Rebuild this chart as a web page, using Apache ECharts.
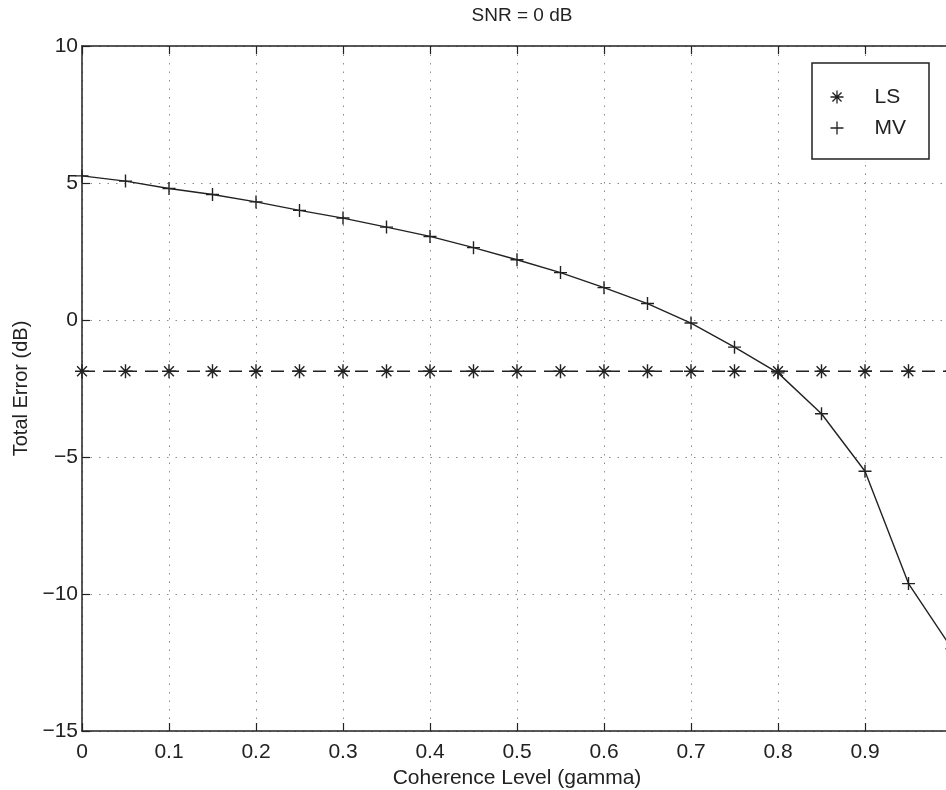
<!DOCTYPE html>
<html>
<head>
<meta charset="utf-8">
<script src="https://cdn.jsdelivr.net/npm/echarts@6/dist/echarts.min.js"></script>
<style>
html,body{margin:0;padding:0;background:#fff;}
#chart{width:946px;height:790px;}
</style>
</head>
<body>
<div id="chart"></div>
<script>
// ---- data ----
var gamma = [0, 0.05, 0.1, 0.15, 0.2, 0.25, 0.3, 0.35, 0.4, 0.45, 0.5, 0.55, 0.6, 0.65, 0.7, 0.75, 0.8, 0.85, 0.9, 0.95, 1.0];
var lsError = [-1.87, -1.87, -1.87, -1.87, -1.87, -1.87, -1.87, -1.87, -1.87, -1.87, -1.87, -1.87, -1.87, -1.87, -1.87, -1.87, -1.87, -1.87, -1.87, -1.87, -1.87];
var mvError = [5.26, 5.07, 4.80, 4.58, 4.31, 4.00, 3.72, 3.39, 3.05, 2.64, 2.20, 1.73, 1.18, 0.60, -0.11, -0.99, -1.93, -3.42, -5.52, -9.62, -12.0];
var seriesNames = ['LS', 'MV'];
var titleText = 'SNR = 0 dB';
var xAxisName = 'Coherence Level (gamma)';
var yAxisName = 'Total Error (dB)';

var FONT = '"Liberation Sans", Arial, Helvetica, sans-serif';
var INK = '#222';
var PLUS = 'path://M0,5L10,5M5,0L5,10';
var STAR = 'path://M0,5L10,5M5,0L5,10M1.5,1.5L8.5,8.5M1.5,8.5L8.5,1.5';

function pairs(xs, ys) { return xs.map(function (x, i) { return [x, ys[i]]; }); }
function minusFmt(v) { return String(v).replace('-', '\u2212'); }

var chart = echarts.init(document.getElementById('chart'), null, {renderer: 'canvas'});
chart.setOption({
  backgroundColor: '#fff',
  animation: false,
  textStyle: {fontFamily: FONT, color: INK},
  title: {
    text: titleText, left: 517, top: 1, textAlign: 'center',
    textStyle: {fontFamily: FONT, fontSize: 19, fontWeight: 'normal', color: INK}
  },
  legend: {
    orient: 'vertical', left: 812, top: 63,
    padding: [22, 23, 19, 16], itemGap: 7,
    itemWidth: 13, itemHeight: 13,
    borderColor: INK, borderWidth: 1.5, backgroundColor: '#fff',
    itemStyle: {color: 'none', borderColor: INK, borderWidth: 1.3},
    textStyle: {fontFamily: FONT, fontSize: 21, color: INK, padding: [0, 0, 0, 26], lineHeight: 24},
    data: [{name: seriesNames[0], icon: STAR}, {name: seriesNames[1], icon: PLUS}]
  },
  grid: {left: 82, width: 870, top: 46, height: 685, containLabel: false, outerBoundsMode: 'none'},
  xAxis: [{
    type: 'value', min: 0, max: 1, interval: 0.1, position: 'bottom',
    name: xAxisName, nameLocation: 'middle', nameGap: 37,
    nameTextStyle: {fontFamily: FONT, fontSize: 21, color: INK},
    axisLine: {show: true, onZero: false, lineStyle: {color: INK, width: 1.5}},
    axisTick: {show: true, inside: true, length: 8, lineStyle: {color: INK, width: 1.2}},
    axisLabel: {fontFamily: FONT, fontSize: 21, color: INK, margin: 11,
      formatter: function (v) { return String(Math.round(v * 10) / 10); }},
    splitLine: {show: true, lineStyle: {color: '#8a8a8a', width: 1, type: [1.5, 7]}}
  }, {
    type: 'value', min: 0, max: 1, interval: 0.1, position: 'top',
    axisLine: {show: true, onZero: false, lineStyle: {color: INK, width: 1.5}},
    axisTick: {show: true, inside: true, length: 8, lineStyle: {color: INK, width: 1.2}},
    axisLabel: {show: false}, splitLine: {show: false}
  }],
  yAxis: [{
    type: 'value', min: -15, max: 10, interval: 5,
    name: yAxisName, nameLocation: 'middle', nameGap: 46,
    nameTextStyle: {fontFamily: FONT, fontSize: 20, color: INK},
    axisLine: {show: true, onZero: false, lineStyle: {color: INK, width: 1.5}},
    axisTick: {show: true, inside: true, length: 8, lineStyle: {color: INK, width: 1.2}},
    axisLabel: {fontFamily: FONT, fontSize: 21, color: INK, margin: 4, formatter: minusFmt},
    splitLine: {show: true, lineStyle: {color: '#8a8a8a', width: 1, type: [1.5, 7]}}
  }],
  series: [{
    name: seriesNames[0], type: 'line', xAxisIndex: 0,
    data: pairs(gamma, lsError),
    symbol: STAR, symbolSize: 14, showAllSymbol: true,
    itemStyle: {color: 'none', borderColor: INK, borderWidth: 1.4},
    lineStyle: {color: INK, width: 1.4, type: [13, 8]},
    emphasis: {disabled: true}
  }, {
    name: seriesNames[1], type: 'line', xAxisIndex: 0,
    data: pairs(gamma, mvError),
    symbol: PLUS, symbolSize: 13, showAllSymbol: true,
    itemStyle: {color: 'none', borderColor: INK, borderWidth: 1.4},
    lineStyle: {color: INK, width: 1.4},
    emphasis: {disabled: true}
  }]
});
</script>
</body>
</html>
